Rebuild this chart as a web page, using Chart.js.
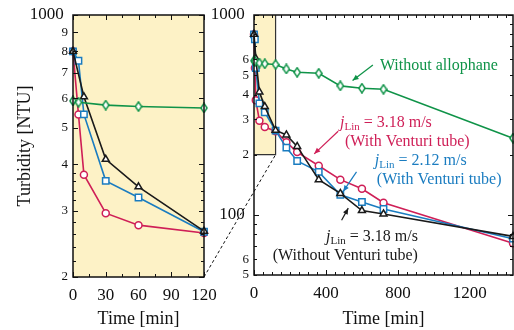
<!DOCTYPE html>
<html><head><meta charset="utf-8">
<script src="https://cdn.jsdelivr.net/npm/chart.js@4.4.1/dist/chart.umd.min.js"></script>
<style>
html,body{margin:0;padding:0;background:#fff;}
#wrap{position:relative;width:514px;height:330px;overflow:hidden;background:#fff;}
canvas{position:absolute;top:0;}
#c1{left:0;} #c2{left:200px;} #ov{left:0;pointer-events:none;}
</style></head><body>
<div id="wrap">
<canvas id="c1" width="230" height="330"></canvas>
<canvas id="c2" width="319" height="330"></canvas>
<canvas id="ov" width="514" height="330"></canvas>
</div>
<script>
// ---------- data ----------
const timesBlack = [0,10,30,60,120,180,240,360,480,600,720,1440];
const turbBlack  = [800,605,412,348,265,251,220,150,128,105,101,78];
const timesBlue  = [0,5,10,30,60,120,180,240,360,480,600,720,1440];
const turbBlue   = [800,755,543,361,326,264,217,186,164,126,116,107,76];
const timesRed   = [0,5,10,30,60,120,180,240,360,480,600,720,1440];
const turbRed    = [800,543,375,296,275,262,231,206,176,150,135,115,72];
const timesGreen = [0,5,30,60,120,180,240,360,480,600,720,1440];
const turbGreen  = [590,585,575,570,565,537,517,511,442,430,425,242];

const leftXTicks  = [0,30,60,90,120];
const rightXTicks = [0,400,800,1200];
const leftYTickValues  = [200,300,400,500,600,700,800,900,1000];
const leftYTickText    = ['2','3','4','5','6','7','8','9','1000'];
const rightYTickValues = [50,60,100,200,300,400,500,600,1000];
const rightYTickText   = ['5','6','100','2','3','4','5','6','1000'];

// ---------- styles ----------
const FONT = "'Liberation Serif','Times New Roman',serif";
const C_BLACK = '#1a1a1a', C_BLUE = '#1a7cc0', C_RED = '#cf1f57', C_GREEN = '#0f9348';
const SHADE = '#fdf2c6';

function diamond(color){
  const c=document.createElement('canvas'); c.width=8; c.height=11;
  const g=c.getContext('2d');
  g.beginPath(); g.moveTo(4,0.9); g.lineTo(7.1,5.5); g.lineTo(4,10.1); g.lineTo(0.9,5.5); g.closePath();
  g.fillStyle='#fff'; g.fill(); g.lineWidth=1.5; g.strokeStyle=color; g.stroke();
  return c;
}

function ds(label, times, vals, color, style, r, maxT){
  const data = times.map((t,i)=>({x:t,y:vals[i]})).filter(p=>p.x<=maxT);
  return {label, data, borderColor:color, borderWidth:1.6, pointStyle:style, pointRadius:r,
    pointBackgroundColor:'#fff', pointBorderColor:color, pointBorderWidth:1.5, tension:0, clip:false, fill:false};
}
function datasets(maxT){
  return [
    ds('Without allophane', timesGreen, turbGreen, C_GREEN, diamond(C_GREEN), 4, maxT),
    ds('3.18 m/s without Venturi', timesBlack, turbBlack, C_BLACK, 'triangle', 4, maxT),
    ds('2.12 m/s with Venturi', timesBlue, turbBlue, C_BLUE, 'rect', 4.5, maxT),
    ds('3.18 m/s with Venturi', timesRed, turbRed, C_RED, 'circle', 3.5, maxT),
  ];
}

const frameTicks = {
  id:'frameTicks',
  afterDraw(chart, args, o){
    const {ctx, chartArea:a, scales:{x,y}} = chart;
    ctx.save(); ctx.strokeStyle='#111'; ctx.lineWidth=1;
    const seg=(x1,y1,x2,y2)=>{ctx.beginPath();ctx.moveTo(x1,y1);ctx.lineTo(x2,y2);ctx.stroke();};
    const xs=[...o.xMajor.map(v=>[v,5]),...o.xMinor.map(v=>[v,3])];
    xs.forEach(([v,L])=>{const p=Math.round(x.getPixelForValue(v))+0.5; if(p<a.left-1||p>a.right+1)return;
      seg(p,a.bottom,p,a.bottom-L); seg(p,a.top,p,a.top+L);});
    const ys=[...o.yMajor.map(v=>[v,5]),...o.yMinor.map(v=>[v,3])];
    ys.forEach(([v,L])=>{const p=Math.round(y.getPixelForValue(v))+0.5;
      seg(a.left,p,a.left+L,p); seg(a.right,p,a.right-L,p);});
    ctx.lineWidth=1.5; ctx.strokeStyle='#111';
    ctx.strokeRect(a.left,a.top,a.right-a.left,a.bottom-a.top);
    ctx.restore();
  }
};

function yScale(min,max,vals,texts,width){
  return {type:'logarithmic',min,max,
    afterBuildTicks:s=>{s.ticks=vals.map(v=>({value:v}));},
    afterFit:s=>{s.width=width; s.paddingTop=0; s.paddingBottom=0;},
    grid:{display:false, drawTicks:false, tickLength:0}, border:{display:false},
    ticks:{autoSkip:false, padding:5, color:'#111',
      callback:(v)=>{const i=vals.indexOf(v); if(i<0)return ''; const t=texts[i]; return t.length>1? t+' ' : t;},
      font:(c)=>{const v=c.tick?c.tick.value:0; const i=vals.indexOf(v); const big=i>=0&&texts[i].length>1; return {family:FONT,size:big?17:13};}
    }
  };
}
function xScale(min,max,ticks,height){
  return {type:'linear',min,max,
    afterBuildTicks:s=>{s.ticks=ticks.map(v=>({value:v}));},
    afterFit:s=>{s.height=height; s.paddingLeft=0; s.paddingRight=0;},
    grid:{display:false, drawTicks:false, tickLength:0}, border:{display:false},
    ticks:{autoSkip:false, padding:8, color:'#111', font:{family:FONT,size:17}, maxRotation:0,
      callback:(v)=>String(v)},
    title:{display:true,text:'Time [min]',color:'#111',font:{family:FONT,size:18},padding:{top:0,bottom:0}}
  };
}

// ---------- left chart ----------
const leftY = yScale(200,1000,leftYTickValues,leftYTickText,73);
leftY.title={display:true,text:'Turbidity [NTU]',color:'#111',font:{family:FONT,size:18},padding:{top:14,bottom:0}};
const shadeAll = {id:'shadeAll', beforeDatasetsDraw(chart){const {ctx,chartArea:a}=chart; ctx.save(); ctx.fillStyle=SHADE; ctx.fillRect(a.left,a.top,a.right-a.left,a.bottom-a.top); ctx.restore();}};
const c1 = new Chart(document.getElementById('c1'),{
  type:'line', data:{datasets:datasets(120)},
  options:{responsive:false, animation:false, devicePixelRatio:1,
    layout:{padding:{top:15,right:26,left:0,bottom:0}},
    plugins:{legend:{display:false},tooltip:{enabled:false},
      frameTicks:{xMajor:leftXTicks,xMinor:[15,45,75,105],
        yMajor:leftYTickValues,yMinor:[220,240,260,280,320,340,360,380]}},
    scales:{x:xScale(0,120,leftXTicks,53), y:leftY}
  },
  plugins:[shadeAll,frameTicks]
});

// ---------- right chart ----------
const zoomBox = {id:'zoomBox', beforeDatasetsDraw(chart){
  const {ctx,scales:{x,y}}=chart;
  const x0=x.getPixelForValue(0), x1=x.getPixelForValue(120), y0=y.getPixelForValue(1000), y1=y.getPixelForValue(200);
  ctx.save(); ctx.fillStyle=SHADE; ctx.fillRect(x0,y0,x1-x0,y1-y0);
  ctx.strokeStyle='#333'; ctx.lineWidth=1.2; ctx.beginPath(); ctx.moveTo(x1,y0); ctx.lineTo(x1,y1); ctx.lineTo(x0,y1); ctx.stroke();
  ctx.restore();
}};

const notes = [
  {color:C_GREEN, align:'left', t:700, v:556, lines:[[{s:'Without allophane'}]],
    arrow:{from:[661,562], to:[548,470]}},
  {color:C_RED, align:'left', t:478, v:288, lines:[[{s:'j',it:1},{s:'Lin',sub:1},{s:' = 3.18 m/s'}],[{s:'(With Venturi tube)',dx:5}]],
    arrow:{from:[468,262], to:[335,202]}},
  {color:C_BLUE, align:'left', t:672, v:186, lines:[[{s:'j',it:1},{s:'Lin',sub:1},{s:' = 2.12 m/s'}],[{s:'(With Venturi tube)',dx:2}]],
    arrow:{from:[570,164], to:[496,131]}},
  {color:C_BLACK, align:'right', t:911, v:77.6, lines:[[{s:'j',it:1},{s:'Lin',sub:1},{s:' = 3.18 m/s'}],[{s:'(Without Venturi tube)'}]],
    arrow:{from:[487,94], to:[524,108]}},
];
const annot = {id:'annot', afterDraw(chart){
  const {ctx,scales:{x,y}}=chart;
  ctx.save();
  notes.forEach(n=>{
    ctx.fillStyle=n.color; ctx.strokeStyle=n.color; ctx.textBaseline='middle';
    let px=x.getPixelForValue(n.t), py=y.getPixelForValue(n.v);
    n.lines.forEach((line,li)=>{
      const fonts=line.map(p=>p.sub?`11px ${FONT}`:(p.it?`italic 16px ${FONT}`:`16px ${FONT}`));
      let w=0; line.forEach((p,i)=>{ctx.font=fonts[i]; w+=ctx.measureText(p.s).width;});
      let cx = n.align==='right'? px-w : px;
      line.forEach((p,i)=>{ctx.font=fonts[i]; ctx.textAlign='left';
        ctx.fillText(p.s, cx+(p.dx||0), py+li*19+(p.sub?4:0)); cx+=ctx.measureText(p.s).width;});
    });
    const ax=x.getPixelForValue(n.arrow.from[0]), ay=y.getPixelForValue(n.arrow.from[1]);
    const bx=x.getPixelForValue(n.arrow.to[0]), by=y.getPixelForValue(n.arrow.to[1]);
    ctx.lineWidth=1.2; ctx.beginPath(); ctx.moveTo(ax,ay); ctx.lineTo(bx,by); ctx.stroke();
    const ang=Math.atan2(by-ay,bx-ax), L=6, W=2.6;
    ctx.beginPath(); ctx.moveTo(bx,by);
    ctx.lineTo(bx-L*Math.cos(ang)+W*Math.sin(ang), by-L*Math.sin(ang)-W*Math.cos(ang));
    ctx.lineTo(bx-L*Math.cos(ang)-W*Math.sin(ang), by-L*Math.sin(ang)+W*Math.cos(ang));
    ctx.closePath(); ctx.fill();
  });
  ctx.restore();
}};

const rightXMinor=[]; for(let t=50;t<=1440;t+=50){ if(t%400) rightXMinor.push(t); }
const c2 = new Chart(document.getElementById('c2'),{
  type:'line', data:{datasets:datasets(1440)},
  options:{responsive:false, animation:false, devicePixelRatio:1,
    layout:{padding:{top:15,right:6,left:0,bottom:0}},
    plugins:{legend:{display:false},tooltip:{enabled:false},
      frameTicks:{xMajor:rightXTicks,xMinor:rightXMinor,
        yMajor:[100,1000],yMinor:[50,60,70,80,90,200,300,400,500,600,700,800,900]}},
    scales:{x:xScale(0,1440,rightXTicks,55), y:yScale(50,1000,rightYTickValues,rightYTickText,54)}
  },
  plugins:[zoomBox,frameTicks,annot]
});

// ---------- dashed connector ----------
(function(){
  const g=document.getElementById('ov').getContext('2d');
  const off1=0, off2=200;
  const p1x=c1.scales.x.getPixelForValue(120)+off1, p1y=c1.scales.y.getPixelForValue(200);
  const p2x=c2.scales.x.getPixelForValue(120)+off2, p2y=c2.scales.y.getPixelForValue(200);
  g.setLineDash([3,2.5]); g.strokeStyle='#111'; g.lineWidth=1;
  g.beginPath(); g.moveTo(p1x,p1y); g.lineTo(p2x,p2y); g.stroke();
})();
</script>
</body></html>
